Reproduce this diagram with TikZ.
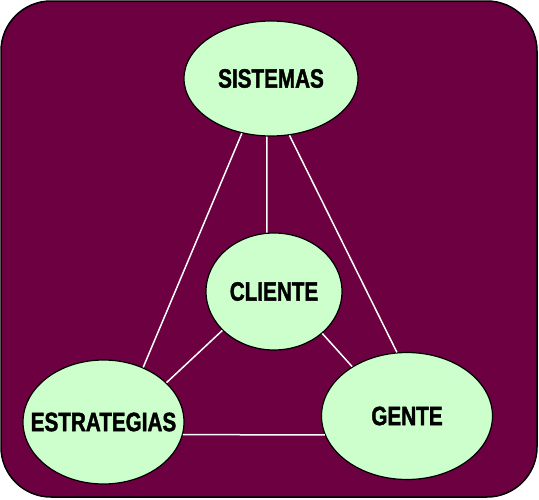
\documentclass[tikz,border=0pt]{standalone}
\usepackage{fontspec}
\usepackage{tikz}
\usetikzlibrary{shapes,backgrounds,calc}
\usetikzlibrary{positioning, shapes.geometric}
\newfontfamily\narrowsans[FakeStretch=0.78, BoldFeatures={FakeBold=1.5}]{Liberation Sans}
\definecolor{granate}{RGB}{108,0,64}
\definecolor{verdeclaro}{RGB}{204,255,204}
\newcommand{\etiq}[1]{\makebox[0pt][c]{#1}}
\tikzset{
  elipA/.style={ draw=black, line width=1.2pt, ellipse, fill=verdeclaro, inner sep=0pt,
    font=\narrowsans\bfseries\fontsize{26.5}{26.5}\selectfont }
}
\tikzset{
  enlace/.style={ draw=white, line width=1.5pt }
}

\begin{document}
\begin{tikzpicture}[y=-1pt, x=1pt]
        \useasboundingbox (0, 0) rectangle (539, 499);
        \draw[fill=granate, line width=1.5pt, rounded corners=50pt] (1, 1) rectangle (537, 497);
        \node[elipA, minimum width=174pt, minimum height=115pt] (sis) at (271, 78.5) {\etiq{SISTEMAS}};
        \node[elipA, minimum width=136pt, minimum height=117pt] (cli) at (274, 291.5) {\etiq{CLIENTE}};
        \node[elipA, minimum width=161pt, minimum height=124pt] (est) at (103.5, 422) {\etiq{ESTRATEGIAS}};
        \node[elipA, minimum width=171pt, minimum height=127pt] (gen) at (407, 416) {\etiq{GENTE}};
        \draw[enlace] (sis.242) -- (est.54);
        \draw[enlace] (sis.288) -- (gen.99);
        \draw[enlace] (sis.266) -- (cli.97);
        \draw[enlace] (cli.217) -- (est.32);
        \draw[enlace] (cli.319) -- (gen.138);
        \draw[enlace] (est.351) -- (gen.193);
      \end{tikzpicture}
\end{document}
